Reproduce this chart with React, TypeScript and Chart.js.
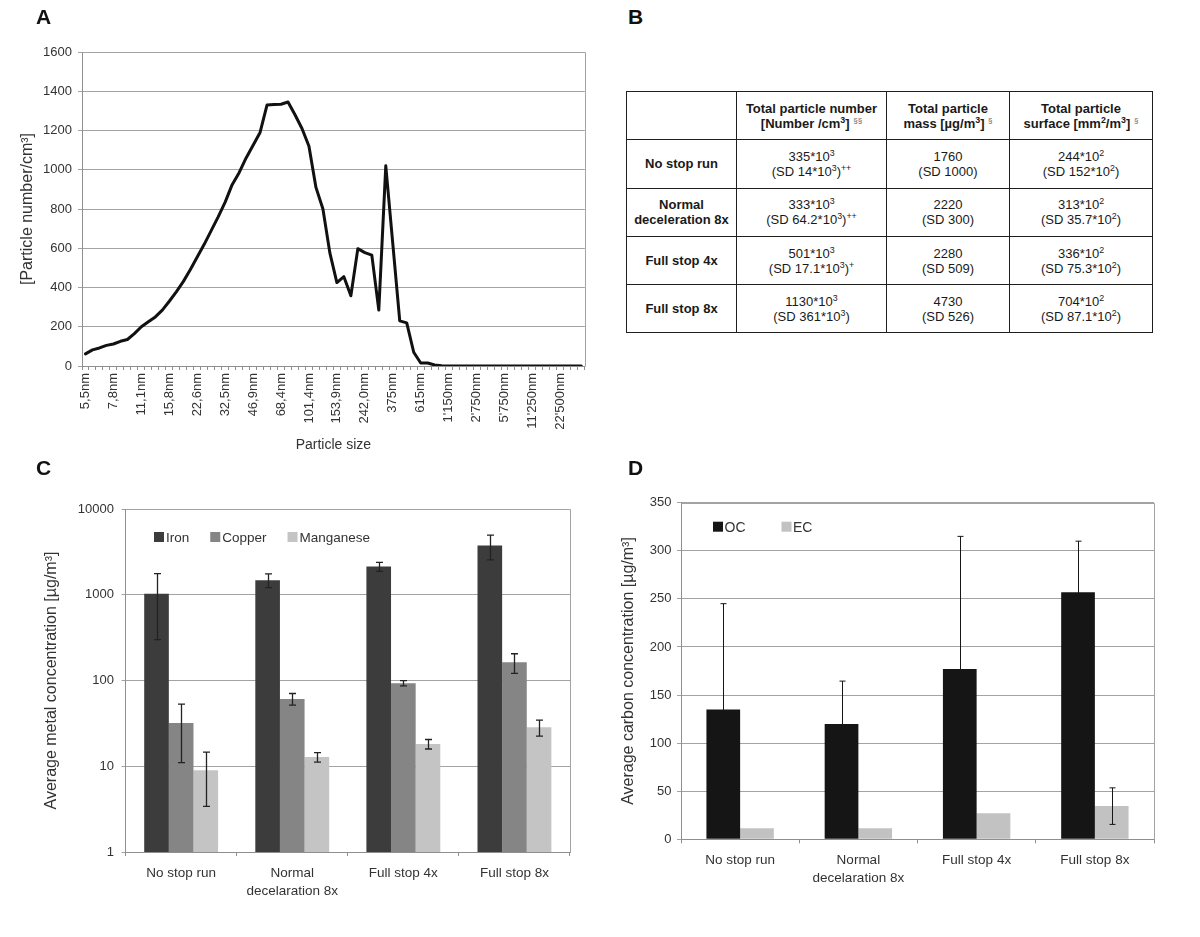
import React, { useEffect, useRef } from "react";
import { Chart, registerables } from "chart.js";
Chart.register(...registerables);

const FONT = "'Liberation Sans', Arial, Helvetica, sans-serif";
const TEXT = "#333333";
const GRID = "#a3a3a3";
const AXIS = "#8f8f8f";
Chart.defaults.font.family = FONT;
Chart.defaults.color = TEXT;

// ---------- Panel A: particle size distribution ----------
const labeledSizes = ["5,5nm", "7,8nm", "11,1nm", "15,8nm", "22,6nm", "32,5nm", "46,9nm", "68,4nm", "101,4nm", "153,9nm", "242,0nm", "375nm", "615nm", "1'150nm", "2'750nm", "5'750nm", "11'250nm", "22'500nm"];
const sizeLabels: string[] = Array.from({ length: 72 }, (_, i) => (i % 4 === 0 ? labeledSizes[i / 4] : ""));
const particleNumber = [
  62, 82, 92, 105, 112, 126, 135, 165, 200, 225,
  250, 285, 330, 378, 430, 490, 555, 620, 690, 760,
  835, 924, 985, 1060, 1125, 1190, 1330, 1333, 1334, 1345,
  1280, 1210, 1120, 910, 800, 575, 425, 455, 358, 598,
  578, 565, 285, 1020, 625, 230, 220, 70, 15, 15,
  5, 1, 0, 0, 0, 0, 0, 0, 0, 0,
  0, 0, 0, 0, 0, 0, 0, 0, 0, 0,
  0, 0,
];
const particleTicks = { min: 0, max: 1600, step: 200 };

// ---------- Panel B: table ----------
const tableRowLabels = [["No stop run"], ["Normal", "deceleration 8x"], ["Full stop 4x"], ["Full stop 8x"]];
const numberMean = ["335", "333", "501", "1130"];
const numberSD = ["14", "64.2", "17.1", "361"];
const numberSig = ["++", "++", "+", ""];
const massMean = ["1760", "2220", "2280", "4730"];
const massSD = ["1000", "300", "509", "526"];
const surfaceMean = ["244", "313", "336", "704"];
const surfaceSD = ["152", "35.7", "75.3", "87.1"];

// ---------- Panel C: metals (log) ----------
const runLabels = [["No stop run"], ["Normal", "decelaration 8x"], ["Full stop 4x"], ["Full stop 8x"]];
const ironMean = [1030, 1480, 2130, 3750];
const ironSD = [730, 270, 260, 1200];
const copperMean = [32, 61, 93, 163];
const copperSD = [21, 9.5, 6.6, 42];
const manganeseMean = [9.0, 12.8, 18.2, 28.5];
const manganeseSD = [5.6, 1.6, 2.3, 6.0];
const metalTicks = [1, 10, 100, 1000, 10000];

// ---------- Panel D: carbon ----------
const ocMean = [135, 120, 177, 257];
const ocSD = [110, 44.5, 138, 53];
const ecMean = [11.5, 11.5, 27, 34.5];
const ecSD = [0, 0, 0, 19];
const carbonTicks = { min: 0, max: 350, step: 50 };

const plainNumber = (v: any) => String(v);

// ---------- plugins ----------
const framePlugin = {
  id: "frame",
  afterDatasetsDraw(chart: any, _a: any, opts: any) {
    const { ctx, chartArea: a } = chart;
    ctx.save();
    ctx.strokeStyle = opts.color || GRID;
    ctx.lineWidth = 1;
    ctx.beginPath();
    ctx.moveTo(Math.round(a.left) + 0.5, Math.round(a.top) + 0.5);
    ctx.lineTo(Math.round(a.right) + 0.5, Math.round(a.top) + 0.5);
    ctx.lineTo(Math.round(a.right) + 0.5, Math.round(a.bottom) + 0.5);
    ctx.stroke();
    ctx.restore();
  },
};

const errorBarPlugin = {
  id: "errorBars",
  afterDatasetsDraw(chart: any, _a: any, opts: any) {
    const { ctx } = chart;
    const y = chart.scales.y;
    ctx.save();
    ctx.strokeStyle = opts.color || "#222";
    ctx.lineWidth = opts.width || 1;
    chart.data.datasets.forEach((ds: any, di: number) => {
      const errs: number[] | undefined = ds.errors;
      if (!errs) return;
      const meta = chart.getDatasetMeta(di);
      meta.data.forEach((el: any, i: number) => {
        const v = ds.data[i];
        const e = errs[i];
        if (!e) return;
        const hi = y.getPixelForValue(v + e);
        const lo = y.getPixelForValue(Math.max(v - e, y.min));
        const x = Math.round(el.x) + 0.5;
        const c = (opts.cap || 6) / 2;
        ctx.beginPath();
        ctx.moveTo(x, hi);
        ctx.lineTo(x, lo);
        ctx.moveTo(x - c, hi);
        ctx.lineTo(x + c, hi);
        ctx.moveTo(x - c, lo);
        ctx.lineTo(x + c, lo);
        ctx.stroke();
      });
    });
    ctx.restore();
  },
};

const insideLegendPlugin = {
  id: "insideLegend",
  afterDraw(chart: any, _a: any, opts: any) {
    const { ctx, chartArea } = chart;
    ctx.save();
    ctx.font = `${opts.size}px ${FONT}`;
    ctx.textBaseline = "middle";
    ctx.textAlign = "left";
    let x = chartArea.left + opts.dx;
    const y = chartArea.top + opts.dy;
    chart.data.datasets.forEach((ds: any) => {
      ctx.fillStyle = ds.backgroundColor;
      ctx.fillRect(x, y - opts.box / 2, opts.box, opts.box);
      x += opts.box + opts.textGap;
      ctx.fillStyle = TEXT;
      ctx.fillText(ds.label, x, y + 1);
      x += ctx.measureText(ds.label).width + opts.gap;
    });
    ctx.restore();
  },
};

// ---------- configs ----------
function makeA(): any {
  return {
    type: "line",
    data: {
      labels: sizeLabels,
      datasets: [
        {
          label: "Particle number",
          data: particleNumber,
          borderColor: "#111111",
          borderWidth: 3,
          pointRadius: 0,
          tension: 0,
          fill: false,
          borderJoinStyle: "round",
          borderCapStyle: "round",
        },
      ],
    },
    options: {
      animation: false,
      responsive: false,
      events: [],
      layout: { padding: { top: 52, right: 12, left: 0, bottom: 0 } },
      plugins: { legend: { display: false }, tooltip: { enabled: false }, frame: { color: GRID } },
      scales: {
        x: {
          type: "category",
          offset: true,
          grid: { offset: true, drawOnChartArea: false, tickLength: 4, color: AXIS },
          border: { color: AXIS },
          ticks: { autoSkip: false, maxRotation: 90, minRotation: 90, padding: 3, font: { size: 13 }, color: TEXT },
          title: { display: true, text: "Particle size", font: { size: 14, lineHeight: 1.2 }, color: TEXT, padding: { top: 0, bottom: 6.6 } },
          afterFit: (s: any) => {
            s.height = 94;
          },
        },
        y: {
          min: particleTicks.min,
          max: particleTicks.max,
          ticks: { stepSize: particleTicks.step, padding: 6, font: { size: 13 }, color: TEXT, callback: plainNumber },
          grid: { color: GRID, tickLength: 4 },
          border: { color: AXIS },
          title: { display: true, text: "[Particle number/cm³]", font: { size: 16, lineHeight: 1.2 }, color: TEXT, padding: { top: 18.4, bottom: 0 } },
          afterFit: (s: any) => {
            s.width = 82;
          },
        },
      },
    },
    plugins: [framePlugin],
  };
}

function makeC(): any {
  return {
    type: "bar",
    data: {
      labels: runLabels,
      datasets: [
        { label: "Iron", data: ironMean, errors: ironSD, backgroundColor: "#3c3c3c" },
        { label: "Copper", data: copperMean, errors: copperSD, backgroundColor: "#858585" },
        { label: "Manganese", data: manganeseMean, errors: manganeseSD, backgroundColor: "#c4c4c4" },
      ],
    },
    options: {
      animation: false,
      responsive: false,
      events: [],
      datasets: { bar: { categoryPercentage: 0.665, barPercentage: 1 } },
      layout: { padding: { top: 49, right: 30, left: 0, bottom: 0 } },
      plugins: {
        legend: { display: false },
        tooltip: { enabled: false },
        frame: { color: GRID },
        errorBars: { color: "#222", width: 1.3, cap: 7 },
        insideLegend: { dx: 28.4, dy: 28, box: 10, textGap: 2, gap: 21, size: 13.5 },
      },
      scales: {
        x: {
          grid: { offset: true, drawOnChartArea: false, tickLength: 4, color: AXIS },
          border: { color: AXIS },
          ticks: { padding: 8, font: { size: 13.5, lineHeight: 1.333 }, color: TEXT, maxRotation: 0 },
          afterFit: (s: any) => {
            s.height = 85;
          },
        },
        y: {
          type: "logarithmic",
          min: metalTicks[0],
          max: metalTicks[metalTicks.length - 1],
          afterBuildTicks: (s: any) => {
            s.ticks = metalTicks.map((v) => ({ value: v }));
          },
          ticks: { padding: 7.6, font: { size: 13 }, color: TEXT, callback: plainNumber },
          grid: { color: GRID, tickLength: 4 },
          border: { color: AXIS },
          title: { display: true, text: "Average metal concentration [µg/m³]", font: { size: 16, lineHeight: 1.2 }, color: TEXT, padding: { top: 42.4, bottom: 0 } },
          afterFit: (s: any) => {
            s.width = 125.6;
          },
        },
      },
    },
    plugins: [framePlugin, errorBarPlugin, insideLegendPlugin],
  };
}

function makeD(): any {
  return {
    type: "bar",
    data: {
      labels: runLabels,
      datasets: [
        { label: "OC", data: ocMean, errors: ocSD, backgroundColor: "#151515" },
        { label: "EC", data: ecMean, errors: ecSD, backgroundColor: "#c2c2c2" },
      ],
    },
    options: {
      animation: false,
      responsive: false,
      events: [],
      datasets: { bar: { categoryPercentage: 0.57, barPercentage: 1 } },
      layout: { padding: { top: 42.7, right: 46, left: 0, bottom: 0 } },
      plugins: {
        legend: { display: false },
        tooltip: { enabled: false },
        frame: { color: GRID },
        errorBars: { color: "#161616", width: 1, cap: 6 },
        insideLegend: { dx: 32, dy: 24, box: 10, textGap: 1.5, gap: 36, size: 14 },
      },
      scales: {
        x: {
          grid: { offset: true, drawOnChartArea: false, tickLength: 4, color: AXIS },
          border: { color: AXIS },
          ticks: { padding: 7.6, font: { size: 13.5, lineHeight: 1.35 }, color: TEXT, maxRotation: 0 },
          afterFit: (s: any) => {
            s.height = 97.7;
          },
        },
        y: {
          min: carbonTicks.min,
          max: carbonTicks.max,
          ticks: { stepSize: carbonTicks.step, padding: 5.5, font: { size: 13 }, color: TEXT, callback: plainNumber },
          grid: { color: GRID, tickLength: 4 },
          border: { color: AXIS },
          title: { display: true, text: "Average carbon concentration [µg/m³]", font: { size: 16, lineHeight: 1.2 }, color: TEXT, padding: { top: 19.4, bottom: 0 } },
          afterFit: (s: any) => {
            s.width = 81;
          },
        },
      },
    },
    plugins: [framePlugin, errorBarPlugin, insideLegendPlugin],
  };
}

function ChartBox({ left, top, width, height, make }: { left: number; top: number; width: number; height: number; make: () => any }) {
  const ref = useRef<HTMLCanvasElement | null>(null);
  useEffect(() => {
    const chart = new Chart(ref.current as HTMLCanvasElement, make());
    return () => chart.destroy();
  }, []);
  return (
    <div style={{ position: "absolute", left, top, width, height }}>
      <canvas ref={ref} width={width} height={height} style={{ width, height, display: "block" }} />
    </div>
  );
}

const supStyle: React.CSSProperties = { fontSize: "0.68em", verticalAlign: "super", lineHeight: 0 };
const secStyle: React.CSSProperties = { fontSize: "0.62em", verticalAlign: "super", lineHeight: 0, color: "#666", fontWeight: 400 };

function DataTable() {
  const border = "1.5px solid #1f1f1f";
  const cell: React.CSSProperties = { border, textAlign: "center", verticalAlign: "middle", padding: 0, lineHeight: "15px" };
  const colW = [110, 150, 123, 143];
  const rowH = 48.3;
  return (
    <table
      style={{
        position: "absolute",
        left: 626,
        top: 91,
        borderCollapse: "collapse",
        tableLayout: "fixed",
        width: colW.reduce((a, b) => a + b, 0),
        fontFamily: FONT,
        fontSize: 13,
        color: "#1a1a1a",
      }}
    >
      <colgroup>
        {colW.map((w, i) => (
          <col key={i} style={{ width: w }} />
        ))}
      </colgroup>
      <tbody>
        <tr style={{ height: rowH }}>
          <td style={cell}></td>
          <td style={{ ...cell, fontWeight: 700 }}>
            Total particle number
            <br />
            [Number /cm<sup style={supStyle}>3</sup>] <span style={secStyle}>§§</span>
          </td>
          <td style={{ ...cell, fontWeight: 700 }}>
            Total particle
            <br />
            mass [µg/m<sup style={supStyle}>3</sup>] <span style={secStyle}>§</span>
          </td>
          <td style={{ ...cell, fontWeight: 700 }}>
            Total particle
            <br />
            surface [mm<sup style={supStyle}>2</sup>/m<sup style={supStyle}>3</sup>] <span style={secStyle}>§</span>
          </td>
        </tr>
        {tableRowLabels.map((lab, i) => (
          <tr key={i} style={{ height: rowH }}>
            <td style={{ ...cell, fontWeight: 700 }}>
              {lab.map((l, j) => (
                <React.Fragment key={j}>
                  {j > 0 && <br />}
                  {l}
                </React.Fragment>
              ))}
            </td>
            <td style={cell}>
              {numberMean[i]}*10<sup style={supStyle}>3</sup>
              <br />
              (SD {numberSD[i]}*10<sup style={supStyle}>3</sup>)<sup style={supStyle}>{numberSig[i]}</sup>
            </td>
            <td style={cell}>
              {massMean[i]}
              <br />
              (SD {massSD[i]})
            </td>
            <td style={cell}>
              {surfaceMean[i]}*10<sup style={supStyle}>2</sup>
              <br />
              (SD {surfaceSD[i]}*10<sup style={supStyle}>2</sup>)
            </td>
          </tr>
        ))}
      </tbody>
    </table>
  );
}

function PanelLetter({ ch, left, top }: { ch: string; left: number; top: number }) {
  return (
    <div style={{ position: "absolute", left, top, fontFamily: FONT, fontWeight: 700, fontSize: 21, lineHeight: "24px", color: "#111" }}>{ch}</div>
  );
}

export default function App() {
  return (
    <div style={{ position: "absolute", left: 0, top: 0, width: 1200, height: 937, background: "#ffffff", overflow: "hidden" }}>
      <ChartBox left={0} top={0} width={600} height={460} make={makeA} />
      <ChartBox left={0} top={460} width={600} height={477} make={makeC} />
      <ChartBox left={600} top={460} width={600} height={477} make={makeD} />
      <DataTable />
      <PanelLetter ch="A" left={36} top={5} />
      <PanelLetter ch="B" left={628} top={5} />
      <PanelLetter ch="C" left={36} top={456} />
      <PanelLetter ch="D" left={628} top={456} />
    </div>
  );
}
